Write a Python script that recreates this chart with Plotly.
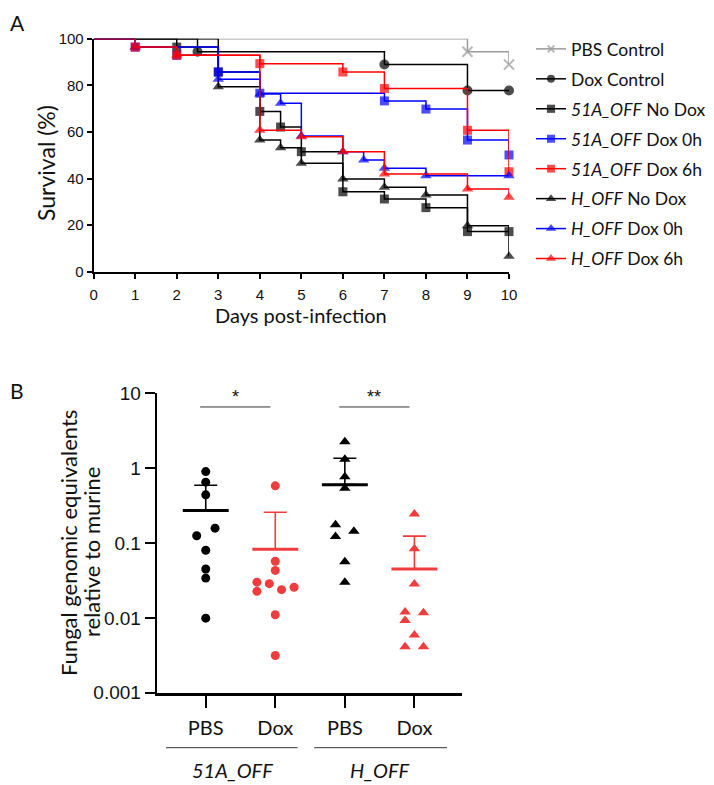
import numpy as np
import plotly.graph_objects as go

# ---------------- Panel A data (Kaplan-Meier survival, %) ----------------
day_ticks = list(range(0, 11))
surv_ticks = [0, 20, 40, 60, 80, 100]

pbs_ctrl_days = [0, 9, 10]
pbs_ctrl_surv = [100, 94.4, 88.9]
dox_ctrl_days = [0, 2.5, 7, 9, 10]
dox_ctrl_surv = [100, 94.4, 88.9, 77.8, 77.8]
a51_nodox_days = [0, 2, 3, 4, 4.5, 5, 6, 7, 8, 9, 10]
a51_nodox_surv = [100, 96.4, 85.7, 68.8, 62.1, 51.5, 34.3, 31.2, 27.5, 17.2, 17.2]
a51_dox0_days = [0, 1, 2, 3, 4, 7, 8, 9, 10]
a51_dox0_surv = [100, 96.4, 92.9, 85.7, 76.6, 73.3, 69.8, 56.5, 50.1]
a51_dox6_days = [0, 1, 2, 4, 6, 7, 9, 10]
a51_dox6_surv = [100, 96.4, 92.9, 89.3, 85.7, 78.6, 60.7, 42.9]
h_nodox_days = [0, 3, 4, 4.5, 5, 6, 7, 8, 9, 10]
h_nodox_surv = [100, 79.4, 56.5, 53.2, 46.5, 39.8, 36.2, 32.9, 19.7, 6.6]
h_dox0_days = [0, 1, 3, 4, 4.5, 5, 6, 6.5, 7, 8, 10]
h_dox0_surv = [100, 96.4, 82.6, 76.3, 72.3, 58.2, 51.5, 47.9, 44.4, 41.2, 41.2]
h_dox6_days = [0, 1, 2, 4, 5, 6, 7, 9, 10]
h_dox6_surv = [100, 96.4, 92.9, 60.7, 57.9, 51.5, 41.9, 35.5, 31.9]

series_labels = [
    "PBS Control",
    "Dox Control",
    "<i>51A_OFF</i> No Dox",
    "<i>51A_OFF</i> Dox 0h",
    "<i>51A_OFF</i> Dox 6h",
    "<i>H_OFF</i> No Dox",
    "<i>H_OFF</i> Dox 0h",
    "<i>H_OFF</i> Dox 6h",
]

# ---------------- Panel B data (fungal genomic equivalents) ----------------
group_labels = ["PBS", "Dox", "PBS", "Dox"]
strain_labels = ["51A_OFF", "H_OFF"]
fge_51a_pbs = [0.90, 0.65, 0.44, 0.158, 0.125, 0.080, 0.045, 0.034, 0.0099]
fge_51a_dox = [0.58, 0.057, 0.043, 0.030, 0.0286, 0.0256, 0.0238, 0.0226, 0.011, 0.00314]
fge_h_pbs = [2.26, 1.32, 0.77, 0.54, 0.175, 0.143, 0.122, 0.056, 0.030]
fge_h_dox = [0.244, 0.084, 0.0284, 0.012, 0.0117, 0.0092, 0.0059, 0.0041, 0.0041]
sig_labels = ["*", "**"]

# ---------------- styling ----------------
BLUE = "#0000FF"
RED = "#FF0000"
BLACK = "#000000"
GREY = "#9A9A9A"
RED_B = "#F03C3C"
TXT = "Lato"
NUM = "Liberation Sans"
W, H = 714, 785
OFF = 8  # page body margin


def PX(x):
    return (x - OFF) / W


def PY(y):
    return 1 - (y - OFF) / H


fig = go.Figure()

km = [
    (pbs_ctrl_days, pbs_ctrl_surv, GREY, "x-thin-open", 10),
    (dox_ctrl_days, dox_ctrl_surv, BLACK, "circle", 10),
    (a51_nodox_days, a51_nodox_surv, BLACK, "square", 9),
    (a51_dox0_days, a51_dox0_surv, BLUE, "square", 9),
    (a51_dox6_days, a51_dox6_surv, RED, "square", 9),
    (h_nodox_days, h_nodox_surv, BLACK, "triangle-up", 10),
    (h_dox0_days, h_dox0_surv, BLUE, "triangle-up", 10),
    (h_dox6_days, h_dox6_surv, RED, "triangle-up", 10),
]
for i, ((d, s, col, sym, sz), lab) in enumerate(zip(km, series_labels)):
    sizes = [0] + [sz] * (len(d) - 1)
    fig.add_trace(go.Scatter(
        x=d, y=s, mode="lines+markers", name=lab, legendgroup=str(i),
        line=dict(color=col, width=1.5, shape="hv"),
        marker=dict(symbol=sym, size=sizes, color=col,
                    line=dict(color=col, width=2 if sym.startswith("x") else 0)),
        cliponaxis=False, xaxis="x", yaxis="y",
    ))

# Panel B scatter
groups = [fge_51a_pbs, fge_51a_dox, fge_h_pbs, fge_h_dox]
offsets = [
    [0, 0, 0, 0.134, -0.13, 0, 0, 0, 0],
    [0, 0, 0, -0.264, -0.086, 0.27, 0.09, -0.264, 0, 0],
    [0, 0, 0, 0, -0.134, 0.13, -0.134, 0, 0],
    [0, 0, 0, -0.134, 0.13, -0.134, 0, -0.134, 0.13],
]
gcol = [BLACK, RED_B, BLACK, RED_B]
gsym = ["circle", "circle", "triangle-up", "triangle-up"]
for gi, (vals, off) in enumerate(zip(groups, offsets)):
    fig.add_trace(go.Scatter(
        x=[gi + o for o in off], y=vals, mode="markers", showlegend=False,
        marker=dict(symbol=gsym[gi], size=9 if gsym[gi] == "circle" else 10, color=gcol[gi]),
        xaxis="x2", yaxis="y2", cliponaxis=False,
    ))
    m = float(np.mean(vals))
    sd = float(np.std(vals, ddof=1))
    fig.add_trace(go.Scatter(
        x=[gi], y=[m], mode="markers", showlegend=False,
        marker=dict(size=1, color=gcol[gi], opacity=0),
        error_y=dict(type="data", symmetric=False, array=[sd], arrayminus=[0],
                     color=gcol[gi], thickness=1.6, width=11.5),
        xaxis="x2", yaxis="y2", cliponaxis=False,
    ))
    fig.add_trace(go.Scatter(
        x=[gi - 0.33, gi + 0.33], y=[m, m], mode="lines", showlegend=False,
        line=dict(color=gcol[gi], width=3), xaxis="x2", yaxis="y2",
    ))

shapes = []
annotations = []
# significance bars
sig_y = 6.57
for k, lab in enumerate(sig_labels):
    a, b = 2 * k, 2 * k + 1
    shapes.append(dict(type="line", xref="x2", yref="y2", x0=a - 0.08, x1=b - 0.07,
                       y0=sig_y, y1=sig_y, line=dict(color="#333", width=1)))
    annotations.append(dict(xref="x2", yref="y2", x=(a + b) / 2 - 0.075, y=np.log10(sig_y),
                            text=lab, showarrow=False, yanchor="bottom", yshift=-2,
                            font=dict(family=NUM, size=18, color="#111")))
# strain group lines + labels
for k, lab in enumerate(strain_labels):
    a, b = 2 * k, 2 * k + 1
    shapes.append(dict(type="line", xref="x2", yref="paper", x0=a - 0.57 + 0.13 * k, x1=b + 0.32 + 0.15 * k,
                       y0=PY(747.7), y1=PY(747.7), line=dict(color="#333", width=1)))
    annotations.append(dict(xref="x2", yref="paper", x=(a + b) / 2 - 0.12 + 0.13 * k, y=PY(770),
                            text="<i>" + lab + "</i>", showarrow=False, yanchor="middle",
                            font=dict(family=TXT, size=20, color="#111")))

# panel letters & titles
annotations += [
    dict(xref="paper", yref="paper", x=PX(8), y=PY(8), text="A", showarrow=False,
         xanchor="left", yanchor="top", font=dict(family=TXT, size=21, color="#111")),
    dict(xref="paper", yref="paper", x=PX(8), y=PY(390), text="B", showarrow=False,
         xanchor="left", yanchor="middle", font=dict(family=TXT, size=21, color="#111")),
    dict(xref="paper", yref="paper", x=PX(46), y=PY(163), text="Survival (%)", textangle=-90,
         showarrow=False, xanchor="center", yanchor="middle", font=dict(family=TXT, size=23, color="#111")),
    dict(xref="paper", yref="paper", x=PX(301), y=PY(315), text="Days post-infection",
         showarrow=False, xanchor="center", yanchor="middle", font=dict(family=TXT, size=20, color="#111")),
    dict(xref="paper", yref="paper", x=PX(68), y=PY(543),
         text="Fungal genomic equivalents", textangle=-90,
         showarrow=False, xanchor="center", yanchor="middle",
         font=dict(family=TXT, size=22, color="#111")),
    dict(xref="paper", yref="paper", x=PX(91), y=PY(552),
         text="relative to murine", textangle=-90,
         showarrow=False, xanchor="center", yanchor="middle",
         font=dict(family=TXT, size=22, color="#111")),
]

axis_common = dict(showline=True, linecolor="black", linewidth=2, ticks="outside",
                   tickcolor="black", showgrid=False, zeroline=False, mirror=False)

fig.update_layout(
    width=W, height=H, autosize=False,
    margin=dict(l=0, r=0, t=0, b=0, autoexpand=False),
    paper_bgcolor="white", plot_bgcolor="white",
    showlegend=True,
    legend=dict(x=PX(531), y=PY(31), xanchor="left", yanchor="top",
                font=dict(family=TXT, size=17.5, color="#111"), tracegroupgap=4.2,
                bgcolor="rgba(0,0,0,0)", itemclick=False),
    xaxis=dict(domain=[PX(93.7), PX(509)], range=[0, 10], tickvals=day_ticks,
               ticklen=5, tickwidth=1.5, ticklabelstandoff=3,
               tickfont=dict(family=NUM, size=15, color="#111"),
               anchor="y", **axis_common),
    yaxis=dict(domain=[PY(271.7), PY(38.7)], range=[0, 100], tickvals=surv_ticks,
               ticklen=5, tickwidth=1.5, tickfont=dict(family=NUM, size=15, color="#111"),
               anchor="x", **axis_common),
    xaxis2=dict(domain=[PX(156.7), PX(461.7)], range=[-0.705, 3.68],
                tickvals=[0, 1, 2, 3], ticktext=group_labels, ticklen=13, tickwidth=2,
                ticklabelstandoff=3,
                tickfont=dict(family=TXT, size=20, color="#111"), anchor="y2", **axis_common),
    yaxis2=dict(domain=[PY(692.7), PY(393.3)], type="log", range=[-3, 1],
                tickvals=[0.001, 0.01, 0.1, 1, 10], ticktext=["0.001", "0.01", "0.1", "1", "10"],
                ticklen=10, tickwidth=2, tickfont=dict(family=NUM, size=19, color="#111"),
                anchor="x2", **axis_common),
    shapes=shapes, annotations=annotations,
)
fig.update_xaxes(linewidth=2.5, selector=dict(anchor="y2"))

fig.write_html("out.html")
